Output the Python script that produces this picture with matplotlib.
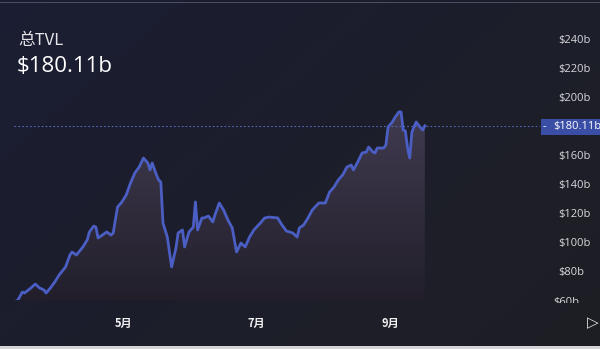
import numpy as np
import matplotlib
matplotlib.use("Agg")
import matplotlib.pyplot as plt
import matplotlib.dates as mdates
from matplotlib.patches import Rectangle
from matplotlib.colors import LinearSegmentedColormap
from matplotlib.transforms import Bbox

# data (total TVL, billions of USD)
dates = ["2021-03-11", "2021-03-13", "2021-03-15", "2021-03-16", "2021-03-19", "2021-03-21",
         "2021-03-23", "2021-03-25", "2021-03-26", "2021-03-28", "2021-03-30", "2021-04-01",
         "2021-04-04", "2021-04-06", "2021-04-07", "2021-04-09", "2021-04-12", "2021-04-14",
         "2021-04-15", "2021-04-17", "2021-04-18", "2021-04-19", "2021-04-21", "2021-04-23",
         "2021-04-25", "2021-04-26", "2021-04-27", "2021-04-28", "2021-04-30", "2021-05-02",
         "2021-05-04", "2021-05-06", "2021-05-08", "2021-05-10", "2021-05-12", "2021-05-13",
         "2021-05-14", "2021-05-16", "2021-05-17", "2021-05-18", "2021-05-19", "2021-05-21",
         "2021-05-22", "2021-05-23", "2021-05-25", "2021-05-26", "2021-05-28", "2021-05-29",
         "2021-05-31", "2021-06-02", "2021-06-03", "2021-06-04", "2021-06-06", "2021-06-07",
         "2021-06-09", "2021-06-11", "2021-06-12", "2021-06-14", "2021-06-16", "2021-06-18",
         "2021-06-20", "2021-06-21", "2021-06-22", "2021-06-24", "2021-06-26", "2021-06-28",
         "2021-06-30", "2021-07-03", "2021-07-05", "2021-07-07", "2021-07-11", "2021-07-13",
         "2021-07-15", "2021-07-18", "2021-07-20", "2021-07-21", "2021-07-23", "2021-07-25",
         "2021-07-27", "2021-07-30", "2021-08-02", "2021-08-04", "2021-08-06", "2021-08-08",
         "2021-08-10", "2021-08-12", "2021-08-14", "2021-08-15", "2021-08-17", "2021-08-19",
         "2021-08-21", "2021-08-22", "2021-08-24", "2021-08-25", "2021-08-26", "2021-08-29",
         "2021-08-30", "2021-08-31", "2021-09-02", "2021-09-03", "2021-09-05", "2021-09-06",
         "2021-09-07", "2021-09-08", "2021-09-09", "2021-09-10", "2021-09-11", "2021-09-13",
         "2021-09-14", "2021-09-16", "2021-09-17"]
tvl = [58.6, 60.0, 65.5, 64.8, 68.3, 71.0,
       68.3, 66.9, 64.8, 68.3, 72.4, 77.2,
       82.8, 91.0, 93.1, 91.0, 96.6, 101.4,
       106.9, 111.0, 110.3, 102.8, 104.8, 106.9,
       104.8, 106.2, 115.2, 124.1, 127.6, 132.4,
       140.7, 147.6, 151.7, 157.9, 154.5, 149.7,
       154.5, 146.2, 142.8, 141.4, 113.1, 103.4,
       93.1, 82.8, 95.9, 106.2, 108.3, 96.6,
       106.9, 110.3, 127.6, 108.3, 116.6, 116.6,
       117.9, 113.8, 118.6, 126.9, 122.1, 115.2,
       109.7, 101.4, 93.1, 99.3, 96.6, 103.4,
       108.3, 113.1, 116.6, 117.2, 116.6, 111.7,
       107.6, 106.2, 103.4, 109.7, 111.7, 116.6,
       122.1, 126.9, 126.9, 134.5, 137.9, 142.8,
       146.2, 151.7, 153.1, 149.7, 155.2, 161.4,
       162.1, 165.5, 162.1, 161.4, 164.8, 164.8,
       166.9, 179.3, 182.8, 185.5, 189.7, 189.7,
       177.2, 176.6, 164.8, 157.9, 175.9, 182.8,
       180.7, 177.2, 180.11]
current = tvl[-1]
y_ticks = [80, 100, 120, 140, 160, 200, 220, 240]
month_ticks = ["2021-05-01", "2021-07-01", "2021-09-01"]
month_labels = ["5月", "7月", "9月"]

cjk = ["Noto Sans CJK SC", "DejaVu Sans"]
latin = ["Open Sans", "DejaVu Sans"]

x = mdates.datestr2num(dates)
y = np.array(tvl)

fig = plt.figure(figsize=(6, 3.49), dpi=100)

# background gradient: navy top-left -> neutral dark grey bottom-right
bg = fig.add_axes([0, 0, 1, 1], zorder=-5)
gx, gy = np.meshgrid(np.linspace(0, 1, 300), np.linspace(0, 1, 175))
w = np.clip(0.9 * (1 - gx) * 0.7 + 0.7 * (1 - gy) * 0.6, 0, 1)
navy = np.array([27, 29, 50]) / 255
grey = np.array([30, 31, 36]) / 255
img = grey[None, None, :] * (1 - w[..., None]) + navy[None, None, :] * w[..., None]
bg.imshow(img, extent=[0, 1, 0, 1], aspect="auto", origin="upper")
bg.add_patch(Rectangle((0, 0), 1, 3 / 349, color="#d4d4d6", lw=0))
bg.add_patch(Rectangle((0, 1 - 3 / 349), 1, 1.2 / 349, color="#4b4d60", lw=0))
bg.set_xlim(0, 1)
bg.set_ylim(0, 1)
bg.axis("off")

ax = fig.add_axes([0, 49 / 349, 540 / 600, 300 / 349])
ax.set_facecolor("none")
may1 = mdates.datestr2num("2021-05-01")

# gradient fill under the line
fill = ax.fill_between(x, y, 0, color="none", lw=0)
cmap = LinearSegmentedColormap.from_list("f", ["#221f2b", "#413b50"])
grad = ax.imshow(np.linspace(0, 1, 256)[:, None], cmap=cmap, origin="lower",
                 extent=[x[0], x[-1], 60, 192], aspect="auto", zorder=1)
grad.set_clip_path(fill.get_paths()[0], ax.transData)
ax.set_xlim(may1 - 57.3, may1 + 192.2)
ax.set_ylim(60, 266.9)

ax.plot(x, y, color="#4b5ec4", lw=2.0, zorder=3, solid_joinstyle="round")
ax.hlines(current, x[0], may1 + 192.2, color="#5565b8", lw=0.8,
          linestyles=(0, (1.5, 2)), zorder=2)

for s in ax.spines.values():
    s.set_visible(False)
ax.yaxis.tick_right()
ax.set_yticks(y_ticks)
ax.set_yticklabels([f"${v}b" for v in y_ticks], fontfamily=latin, fontsize=8,
                   color="#d8d8dc")
ax.tick_params(axis="y", length=0, pad=13)
ax.set_xticks(mdates.datestr2num(month_ticks))
ax.set_xticklabels(month_labels, fontfamily=cjk, fontsize=8, fontweight="bold",
                   color="#f0f0f0")
ax.tick_params(axis="x", length=0, pad=12)

# $60b label, cut by the bottom of the price scale
t60 = fig.text(553 / 600, 1 - 302.5 / 349, "$60b", fontfamily=latin, fontsize=8,
               color="#d8d8dc", va="center", ha="left")
t60.set_clip_box(Bbox.from_extents(500, 46, 600, 349))
t60.set_clip_on(True)

# current value tag
fig.patches.append(Rectangle((541 / 600, 1 - 135 / 349), 60 / 600, 16 / 349,
                             transform=fig.transFigure, color="#3a4ea6", lw=0))
fig.text(543 / 600, 1 - 127 / 349, "-", fontfamily=latin, fontsize=8,
         color="white", va="center")
fig.text(553 / 600, 1 - 127 / 349, f"${current}b", fontfamily=latin, fontsize=8,
         color="white", va="center")

# header
fig.text(18 / 600, 1 - 40 / 349, "总TVL", fontfamily=cjk, fontsize=12,
         color="#e4e4e8", va="center")
fig.text(17 / 600, 1 - 67 / 349, f"${current}b", fontfamily=latin, fontsize=16,
         color="white", va="center")
fig.text(587 / 600, 1 - 323 / 349, "▷", fontfamily=["DejaVu Sans"], fontsize=11,
         color="#e0e0e0", va="center")

fig.savefig("out.png", dpi=100)
